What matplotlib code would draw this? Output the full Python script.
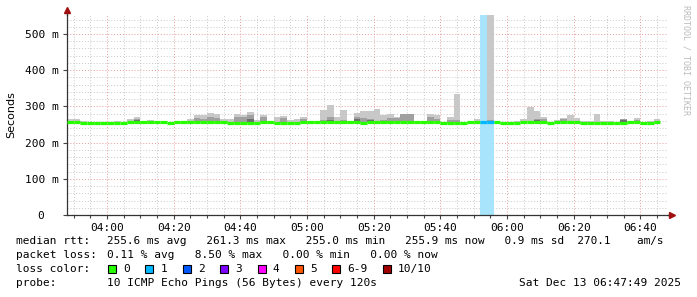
import matplotlib
matplotlib.use('Agg')
import matplotlib.pyplot as plt
import matplotlib.ticker as mticker
from matplotlib.patches import Rectangle
import numpy as np

plt.rcParams['font.family'] = 'DejaVu Sans Mono'
plt.rcParams['font.size'] = 8

# one sample every 120 s, starting 03:48 (minutes after midnight)
start_min = 228
step_min = 2

median_ms = [256.2, 256.2, 254.9, 254.9, 254.9, 254.9, 254.9, 254.9, 254.9, 256.2,
             256.2, 256.2, 256.2, 256.2, 257.5, 254.9, 256.2, 256.2, 256.2, 256.2,
             256.2, 256.2, 256.2, 256.2, 254.9, 254.9, 254.9, 254.9, 254.9, 256.2,
             256.2, 254.9, 254.9, 254.9, 254.9, 256.2, 256.2, 256.2, 256.2, 256.2,
             256.2, 256.2, 256.2, 256.2, 254.9, 256.2, 258.0, 256.2, 256.2, 256.2,
             256.2, 256.2, 256.2, 256.2, 256.2, 256.2, 254.9, 254.9, 254.9, 254.9,
             256.2, 256.2, 256.2, 256.2, 256.2, 254.9, 254.9, 254.9, 256.2, 256.2,
             256.2, 256.2, 254.9, 256.2, 256.2, 256.2, 256.2, 254.9, 254.9, 254.9,
             254.9, 254.9, 254.9, 254.9, 256.2, 256.2, 254.9, 254.9, 256.2]

# smoke: highest ping / middle band / dark band (0 = nothing above median)
smoke_max = [266, 266, 260, 0, 0, 0, 0, 260, 0, 266,
             271, 0, 263, 0, 0, 0, 0, 0, 266, 277,
             277, 281, 279, 266, 266, 280, 277, 285, 263, 277,
             0, 272, 273, 263, 266, 272, 0, 261, 290, 304,
             272, 290, 0, 281, 288, 288, 293, 277, 280, 270,
             280, 280, 260, 0, 280, 277, 0, 272, 335, 0,
             0, 266, 0, 560, 0, 0, 0, 260, 266, 298,
             288, 270, 0, 263, 269, 277, 267, 260, 260, 280,
             260, 260, 0, 265, 260, 269, 0, 260, 266]

smoke_mid = [0, 0, 0, 0, 0, 0, 0, 0, 0, 0,
             266, 0, 0, 0, 0, 0, 0, 0, 0, 268,
             266, 270, 268, 0, 0, 270, 272, 275, 0, 270,
             0, 0, 268, 0, 0, 265, 0, 0, 262, 270,
             0, 262, 0, 272, 268, 266, 0, 262, 268, 268,
             280, 280, 0, 0, 272, 266, 0, 262, 262, 0,
             0, 0, 0, 262, 0, 0, 0, 0, 0, 0,
             266, 264, 0, 0, 264, 0, 0, 0, 0, 0,
             0, 0, 0, 264, 0, 262, 0, 0, 0]

smoke_dark = [0, 0, 0, 0, 0, 0, 0, 0, 0, 0,
              262, 0, 0, 0, 0, 0, 0, 0, 0, 0,
              0, 0, 0, 0, 0, 0, 0, 266, 0, 0,
              0, 0, 0, 0, 0, 0, 0, 0, 0, 262,
              0, 0, 0, 265, 0, 262, 0, 0, 260, 0,
              0, 0, 0, 0, 0, 0, 0, 0, 0, 0,
              0, 0, 0, 0, 0, 0, 0, 0, 0, 0,
              262, 0, 0, 0, 0, 0, 0, 0, 0, 0,
              0, 0, 0, 262, 0, 0, 0, 0, 0]

# pings lost (out of 10) per sample; only two samples had a loss
lost_steps = [62, 63]
lost_count = [1, 1]

loss_labels = ['0', '1', '2', '3', '4', '5', '6-9', '10/10']
loss_colors = ['#26ff00', '#00b8ff', '#0059ff', '#7e00ff', '#ff00ff', '#ff5500', '#ff0000', '#a10000']

n = len(median_ms)
t = start_min + step_min * np.arange(n)
med = np.array(median_ms) / 1000.0
top = np.maximum(np.array(smoke_max) / 1000.0, med)
mid = np.maximum(np.array(smoke_mid) / 1000.0, med)
dark = np.maximum(np.array(smoke_dark) / 1000.0, med)

W, H = 697, 297
fig = plt.figure(figsize=(W / 100, H / 100), dpi=100)
fig.patch.set_facecolor('white')
ax = fig.add_axes([67 / W, 1 - 215 / H, (668 - 67) / W, 200 / H])
ax.set_facecolor('white')

ymax = 0.5525
xmax = start_min + 180.3
ax.set_xlim(start_min, xmax)
ax.set_ylim(0, ymax)

# loss background bands
for s, c in zip(lost_steps, lost_count):
    ax.bar(t[s], ymax, width=step_min, align='edge', color='#a8e4fb', zorder=1)

ax.bar(t, top - med, bottom=med, width=step_min, align='edge', color='#c8c8c8', zorder=2)
ax.bar(t, mid - med, bottom=med, width=step_min, align='edge', color='#a0a0a0', zorder=3)
ax.bar(t, dark - med, bottom=med, width=step_min, align='edge', color='#6e6e6e', zorder=4)

# median line coloured by loss
loss_per_step = np.zeros(n, dtype=int)
for s, c in zip(lost_steps, lost_count):
    loss_per_step[s] = c
for i in range(n):
    col = loss_colors[min(loss_per_step[i], 6) if loss_per_step[i] < 10 else 7]
    ax.plot([t[i], t[i] + step_min], [med[i], med[i]], color=col, lw=2.3,
            solid_capstyle='butt', zorder=5)

# grid
ax.xaxis.set_major_locator(mticker.MultipleLocator(20))
ax.xaxis.set_minor_locator(mticker.MultipleLocator(5))
ax.yaxis.set_major_locator(mticker.MultipleLocator(0.1))
ax.yaxis.set_minor_locator(mticker.MultipleLocator(0.02))
ax.grid(which='minor', color='#c8c8c8', linestyle=(0, (1, 2)), lw=0.7, zorder=0)
ax.grid(which='major', color='#e89a9a', linestyle=(0, (1, 2)), lw=0.7, zorder=0)
ax.set_axisbelow(True)

ax.xaxis.set_major_formatter(mticker.FuncFormatter(
    lambda v, p: '%02d:%02d' % (int(v) // 60, int(v) % 60)))
ax.yaxis.set_major_formatter(mticker.FuncFormatter(
    lambda v, p: '0  ' if v < 1e-6 else '%d m' % round(v * 1000)))
ax.tick_params(which='both', direction='out', colors='#444444', labelcolor='black',
               width=0.8)
ax.tick_params(which='major', length=3, pad=3)
ax.tick_params(axis='x', which='minor', length=2)
ax.tick_params(axis='y', which='minor', length=0)

for side in ['top', 'right']:
    ax.spines[side].set_visible(False)
for side in ['left', 'bottom']:
    ax.spines[side].set_color('#333333')
    ax.spines[side].set_linewidth(0.9)
ax.plot([start_min, start_min], [ymax, ymax * 1.02], color='#333333', lw=0.9, clip_on=False)
ax.plot([start_min], [ymax * 1.025], marker='^', ms=4, color='#a01010', clip_on=False)
ax.plot([xmax, xmax + 1], [0, 0], color='#333333', lw=0.9, clip_on=False)
ax.plot([xmax + 1.2], [0], marker='>', ms=4, color='#a01010', clip_on=False)

fig.text(11 / W, 1 - 115 / H, 'Seconds', rotation=90, ha='center', va='center',
         family='DejaVu Sans', fontsize=8)
fig.text(686 / W, 1 - 5 / H, 'RRDTOOL / TOBI OETIKER', rotation=-90, ha='center', va='top',
         fontsize=6, color='#bbbbbb')

# legend area
def fy(y):
    return 1 - y / H

lx, vx = 16 / W, 107 / W
fig.text(lx, fy(241), 'median rtt:', va='center')
fig.text(vx, fy(241), '255.6 ms avg   261.3 ms max   255.0 ms min   255.9 ms now   0.9 ms sd  270.1    am/s',
         va='center', fontsize=7.95)
fig.text(lx, fy(255), 'packet loss:', va='center')
fig.text(vx, fy(255), '0.11 % avg   8.50 % max   0.00 % min   0.00 % now', va='center')
fig.text(lx, fy(269), 'loss color:', va='center')
bx = 108
for lab, col in zip(loss_labels, loss_colors):
    fig.patches.append(Rectangle((bx / W, fy(273)), 8 / W, 8 / H, transform=fig.transFigure,
                                 facecolor=col, edgecolor='black', lw=0.8))
    fig.text((bx + 15) / W, fy(269), lab, va='center')
    bx += 15 + len(lab) * 6.69 + 15.7
fig.text(lx, fy(283), 'probe:', va='center')
fig.text(vx, fy(283), '10 ICMP Echo Pings (56 Bytes) every 120s', va='center')
fig.text(681 / W, fy(283), 'Sat Dec 13 06:47:49 2025', ha='right', va='center')

fig.savefig('out.png', dpi=100)
